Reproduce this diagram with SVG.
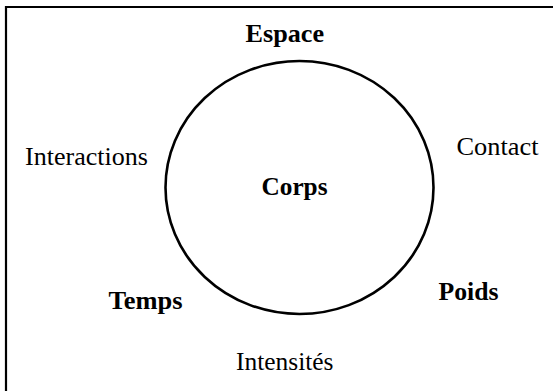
<svg xmlns="http://www.w3.org/2000/svg" width="553" height="391" viewBox="0 0 553 391">
<style>
text{font-family:"Liberation Serif","Times New Roman",serif;font-size:25px;fill:#000}
.b{font-weight:bold}
.line{fill:none;stroke:#000}
</style>
<rect width="553" height="391" fill="#fff"/>
<path class="line" d="M6,391 V7 H553" stroke-width="2.2"/>
<g id="corps">
<ellipse class="line" cx="299.5" cy="187.5" rx="134" ry="126.5" stroke-width="2.6"/>
<text class="b" x="261.5" y="195" textLength="66" lengthAdjust="spacingAndGlyphs">Corps</text>
</g>
<g id="espace"><text class="b" x="245.5" y="42" textLength="78.5" lengthAdjust="spacingAndGlyphs">Espace</text></g>
<g id="interactions"><text x="25" y="165" textLength="123" lengthAdjust="spacingAndGlyphs">Interactions</text></g>
<g id="contact"><text x="456.5" y="155" textLength="82" lengthAdjust="spacingAndGlyphs">Contact</text></g>
<g id="temps"><text class="b" x="108.5" y="309" textLength="74" lengthAdjust="spacingAndGlyphs">Temps</text></g>
<g id="poids"><text class="b" x="438.5" y="300" textLength="60" lengthAdjust="spacingAndGlyphs">Poids</text></g>
<g id="intensites"><text x="236" y="370" textLength="97.5" lengthAdjust="spacingAndGlyphs">Intensités</text></g>
<g id="connectors"/>
</svg>
